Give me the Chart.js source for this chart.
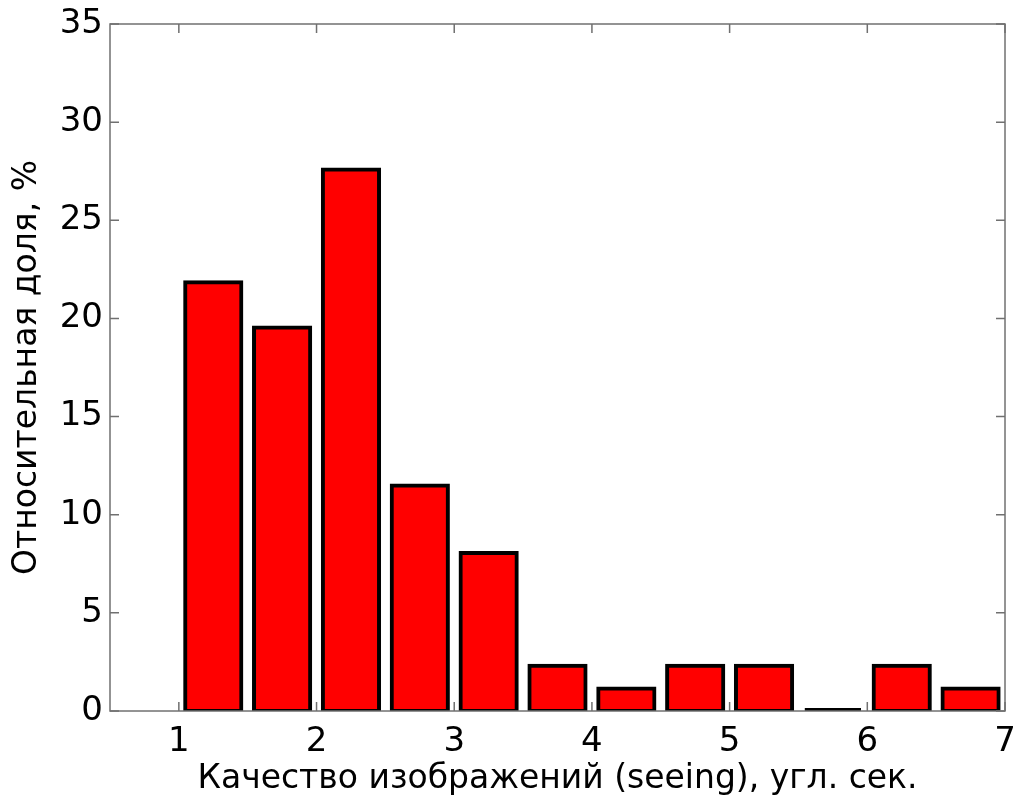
<!DOCTYPE html>
<html>
<head>
<meta charset="utf-8">
<script src="https://cdn.jsdelivr.net/npm/chart.js@4/dist/chart.umd.min.js"></script>
<style>
html,body{margin:0;padding:0;background:#fff;}
#wrap{width:1017px;height:804px;}
</style>
</head>
<body>
<div id="wrap"><canvas id="c" width="1017" height="804"></canvas></div>
<script>
// Bin centers (seeing, arcsec)
const binCenters = [1.25, 1.75, 2.25, 2.75, 3.25, 3.75, 4.25, 4.75, 5.25, 5.75, 6.25, 6.75];
// Relative share, %
const shares = [21.84, 19.54, 27.59, 11.49, 8.05, 2.30, 1.15, 2.30, 2.30, 0, 2.30, 1.15];
const xTicks = [1, 2, 3, 4, 5, 6, 7];
const yTicks = [0, 5, 10, 15, 20, 25, 30, 35];
const xTitle = 'Качество изображений (seeing), угл. сек.';
const yTitle = 'Относительная доля, %';

const FONT = '"DejaVu Sans", sans-serif';
const AXIS_COLOR = '#707070';

const boxPlugin = {
  id: 'matlabBox',
  afterDatasetsDraw(chart) {
    const ctx = chart.ctx;
    const a = chart.chartArea;
    const xs = chart.scales.x, ys = chart.scales.y;
    ctx.save();
    // zero-height bars: MATLAB still draws their outline as a flat black line
    const meta = chart.getDatasetMeta(0);
    meta.data.forEach((el, i) => {
      if (shares[i] === 0) {
        const p = el.getProps(['x', 'width', 'base'], true);
        ctx.fillStyle = '#000';
        ctx.fillRect(p.x - p.width / 2, p.base - 3, p.width, 3);
      }
    });
    ctx.strokeStyle = AXIS_COLOR;
    ctx.lineWidth = 1.5;
    ctx.strokeRect(a.left, a.top, a.right - a.left, a.bottom - a.top);
    const L = 9;
    ctx.beginPath();
    xTicks.forEach(v => {
      const px = xs.getPixelForValue(v);
      ctx.moveTo(px, a.bottom); ctx.lineTo(px, a.bottom - L);
      ctx.moveTo(px, a.top); ctx.lineTo(px, a.top + L);
    });
    yTicks.forEach(v => {
      const py = ys.getPixelForValue(v);
      ctx.moveTo(a.left, py); ctx.lineTo(a.left + L, py);
      ctx.moveTo(a.right, py); ctx.lineTo(a.right - L, py);
    });
    ctx.stroke();
    ctx.restore();
  }
};

function zeroPad(s) {
  s.paddingLeft = 0; s.paddingRight = 0; s.paddingTop = 0; s.paddingBottom = 0;
}

new Chart(document.getElementById('c'), {
  type: 'bar',
  data: {
    datasets: [{
      data: binCenters.map((x, i) => ({x: x, y: shares[i]})),
      backgroundColor: '#ff0000',
      borderColor: '#000000',
      borderWidth: 4,
      borderSkipped: false,
      inflateAmount: 2,
      barPercentage: 0.816,
      categoryPercentage: 1.0
    }]
  },
  options: {
    responsive: false,
    animation: false,
    events: [],
    layout: {padding: {left: 0, right: 12, top: 24, bottom: 0}},
    plugins: {legend: {display: false}, tooltip: {enabled: false}},
    scales: {
      x: {
        type: 'linear',
        min: 0.5,
        max: 7,
        offset: false,
        afterBuildTicks: s => { s.ticks = xTicks.map(v => ({value: v})); },
        afterFit: s => { s.height = 93; zeroPad(s); },
        grid: {display: false, drawTicks: false},
        border: {display: false},
        ticks: {
          color: '#000',
          padding: 11,
          maxRotation: 0,
          autoSkip: false,
          font: {family: FONT, size: 34},
          callback: v => String(v)
        },
        title: {
          display: true,
          text: xTitle,
          color: '#000',
          font: {family: FONT, size: 33},
          padding: {top: 0, bottom: 5}
        }
      },
      y: {
        min: 0,
        max: 35,
        afterBuildTicks: s => { s.ticks = yTicks.map(v => ({value: v})); },
        afterFit: s => { s.width = 110; zeroPad(s); },
        grid: {display: false, drawTicks: false},
        border: {display: false},
        ticks: {
          color: '#000',
          padding: 7,
          autoSkip: false,
          font: {family: FONT, size: 34},
          callback: v => String(v)
        },
        title: {
          display: true,
          text: yTitle,
          color: '#000',
          font: {family: FONT, size: 33},
          padding: {top: 8, bottom: 0}
        }
      }
    }
  },
  plugins: [boxPlugin]
});
</script>
</body>
</html>
